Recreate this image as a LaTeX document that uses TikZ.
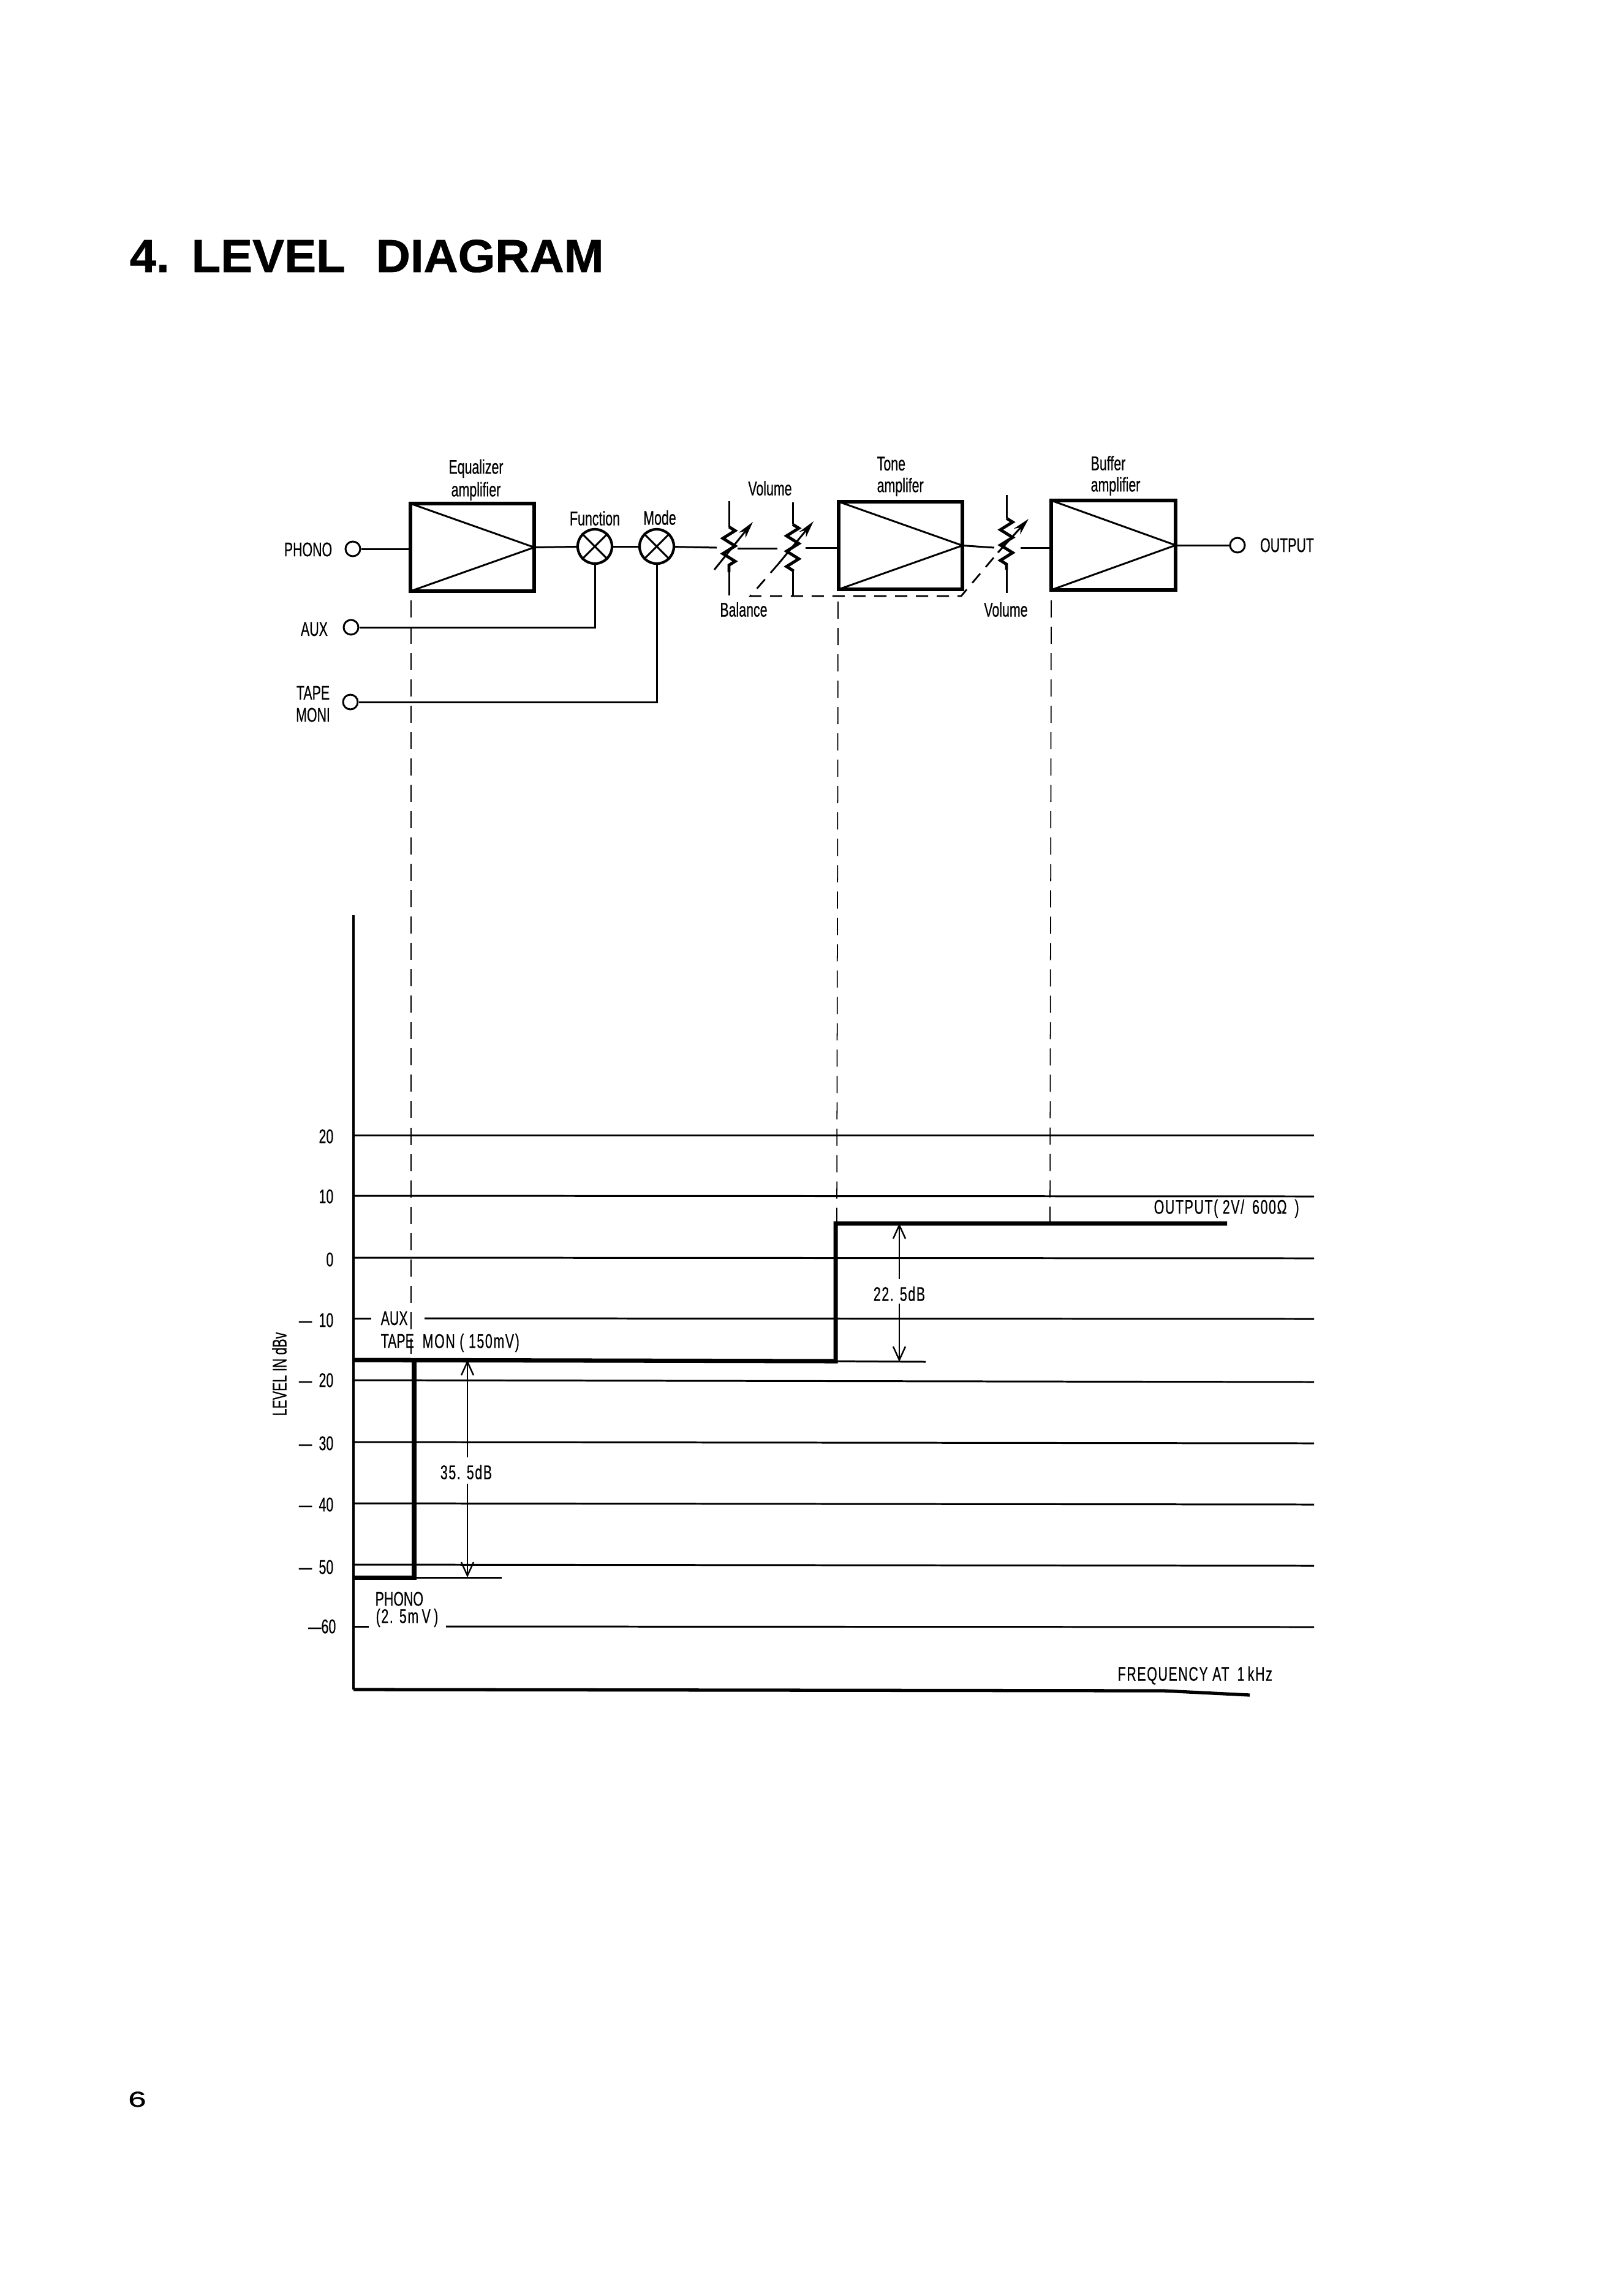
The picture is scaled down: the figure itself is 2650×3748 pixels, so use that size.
\documentclass[tikz,border=0pt]{standalone}
\usepackage{fontspec}
\setmainfont{Liberation Sans}[FakeStretch=0.66,FakeBold=0.5]
\newfontfamily\spreadfont[FakeStretch=0.66,FakeBold=0.5,LetterSpace=5]{Liberation Sans}
\newfontfamily\headfont[BoldFeatures={FakeStretch=1.03,FakeBold=0.8}]{Liberation Sans}
\newfontfamily\pagefont[FakeStretch=1.5,FakeBold=1.2]{Liberation Sans}
\usetikzlibrary{arrows.meta,decorations.pathmorphing}

\tikzset{
    wire/.style={line width=0.85pt},
    guide/.style={line width=0.5pt, dash pattern=on 0.28cm off 0.15cm},
    gang/.style={line width=0.8pt, dash pattern=on 0.2cm off 0.14cm},
    grid line/.style={line width=0.85pt},
    level/.style={line width=2pt},
    span/.style={line width=0.7pt, -{Straight Barb[length=0.22cm,width=0.2cm]}},
    amp/.style={draw, line width=1.7pt, inner sep=0pt, outer sep=0pt},
    jack/.style={circle, draw, line width=0.85pt, inner sep=0pt, minimum size=0.24cm},
    mixer/.style={circle, draw, line width=1.2pt, inner sep=0pt, minimum size=0.56cm},
    tag/.style={inner sep=0pt, font=\fontsize{9.2}{11}\selectfont},
    wide tag/.style={inner sep=0pt, font=\spreadfont\fontsize{9.2}{11}\selectfont},
    coil/.style={decorate, decoration={zigzag, amplitude=0.1cm, segment length=0.25cm}, line width=1.4pt},
    knob/.style={line width=0.85pt, -{Stealth[length=0.28cm,width=0.14cm]}}
}

\begin{document}
\begin{tikzpicture}[x=0.01cm, y=-0.01cm]
    \useasboundingbox (0,0) rectangle (2650,3748);
    \node[inner sep=0pt, anchor=base west, font=\headfont\bfseries\fontsize{21.5}{26}\selectfont] (title) at (211,444) {4.\hspace{0.36cm}LEVEL\hspace{0.5cm}DIAGRAM};
    \node[inner sep=0pt, anchor=base, font=\pagefont\fontsize{10}{12}\selectfont] (page) at (224,3439) {6};

    % input jacks and the three amplifier stages
    \path node[jack] (phono) at (576,896) {}
        node[jack] (aux) at (573,1024) {}
        node[jack] (tape) at (572,1146) {}
        node[jack] (out) at (2020,890) {}
        node[amp, minimum width=2.02cm, minimum height=1.43cm] (eq) at (771,893.5) {}
        node[amp, minimum width=2.02cm, minimum height=1.43cm] (tone) at (1470,890.5) {}
        node[amp, minimum width=2.03cm, minimum height=1.46cm] (buf) at (1817.5,890) {}
        node[mixer] (func) at (971,892) {}
        node[mixer] (mode) at (1072,892) {};

    \draw[wire] (eq.north west) -- (eq.east) -- (eq.south west);
    \draw[wire] (tone.north west) -- (tone.east) -- (tone.south west);
    \draw[wire] (buf.north west) -- (buf.east) -- (buf.south west);
    \draw[wire] (func.45) -- (func.225) (func.135) -- (func.315);
    \draw[wire] (mode.45) -- (mode.225) (mode.135) -- (mode.315);

    % variable resistors
    \path coordinate (r1t) at (1190,818) coordinate (r1a) at (1190,860)
        coordinate (r1b) at (1190,934) coordinate (r1e) at (1190,972)
        coordinate (r2t) at (1294,820) coordinate (r2a) at (1294,856)
        coordinate (r2b) at (1294,932) coordinate (r2e) at (1294,973)
        coordinate (r3t) at (1643,808) coordinate (r3a) at (1643,846)
        coordinate (r3b) at (1643,930) coordinate (r3e) at (1643,968);
    \draw[wire] (r1t) -- (r1a) (r1b) -- (r1e);
    \draw[wire] (r2t) -- (r2a) (r2b) -- (r2e);
    \draw[wire] (r3t) -- (r3a) (r3b) -- (r3e);
    \draw[coil] (r1a) -- (r1b);
    \draw[coil] (r2a) -- (r2b);
    \draw[coil] (r3a) -- (r3b);

    \path coordinate (k1s) at (1166,930) coordinate (k1e) at (1229,852)
        coordinate (k2s) at (1225,973) coordinate (k2m) at (1271,920) coordinate (k2e) at (1328,851)
        coordinate (k3s) at (1569,973) coordinate (k3m) at (1629,902) coordinate (k3e) at (1679,847);
    \draw[knob] (k1s) -- (k1e);
    \draw[knob] (k2m) -- (k2e);
    \draw[knob] (k3m) -- (k3e);
    \draw[gang] (k2m) -- (k2s) -- (k3s) -- (k3m);

    % signal path
    \path coordinate (n1) at (1170,894) coordinate (n2) at (1204,895)
        coordinate (n3) at (1269,895) coordinate (n4) at (1315,894)
        coordinate (n5) at (1623,894) coordinate (n6) at (1666,894);
    \draw[wire] (phono) -- (phono -| eq.west);
    \draw[wire] (eq.east) -- (func);
    \draw[wire] (func) -- (mode);
    \draw[wire] (mode) -- (n1);
    \draw[wire] (n2) -- (n3);
    \draw[wire] (n4) -- (n4 -| tone.west);
    \draw[wire] (tone.east) -- (n5);
    \draw[wire] (n6) -- (n6 -| buf.west);
    \draw[wire] (buf.east) -- (out);
    \draw[wire] (aux) -| (func);
    \draw[wire] (tape) -| (mode);

    % labels of the block diagram
    \path node[tag] (tphono) at (503,897) {PHONO}
        node[tag] (taux) at (513,1027) {AUX}
        node[tag] (ttape) at (511,1131) {TAPE}
        node[tag] (tmoni) at (511,1167) {MONI}
        node[tag] (toutput) at (2101,890) {OUTPUT}
        node[tag] (teq) at (777,765) {Equalizer}
        node[tag] (teqa) at (777,802) {amplifier}
        node[tag] (tfunc) at (971,846) {Function}
        node[tag] (tmode) at (1077,845) {Mode}
        node[tag] (tvol) at (1257,797) {Volume}
        node[tag] (tbal) at (1214,995) {Balance}
        node[tag] (tvolb) at (1642,995) {Volume}
        node[tag, anchor=west] (ttone) at (1431,757) {Tone}
        node[tag, anchor=west] (ttonea) at (1431,795) {amplifer}
        node[tag, anchor=west] (tbuf) at (1780,756) {Buffer}
        node[tag, anchor=west] (tbufa) at (1780,794) {amplifier};

    % level chart
    \path coordinate (atop) at (577,1494) coordinate (abot) at (577,2758)
        coordinate (aend) at (1900,2760) coordinate (aend2) at (2040,2767)
        coordinate (g20a) at (577,1853) coordinate (g20b) at (2145,1853)
        coordinate (g10a) at (577,1952) coordinate (g10b) at (2145,1953)
        coordinate (g0a) at (577,2053) coordinate (g0b) at (2145,2054)
        coordinate (gm10a) at (577,2152) coordinate (gm10b) at (606,2152)
        coordinate (gm10c) at (693,2152) coordinate (gm10d) at (2145,2153)
        coordinate (gm20a) at (577,2253) coordinate (gm20b) at (2145,2256)
        coordinate (gm30a) at (577,2354) coordinate (gm30b) at (2145,2356)
        coordinate (gm40a) at (577,2454) coordinate (gm40b) at (2145,2456)
        coordinate (gm50a) at (577,2554) coordinate (gm50b) at (2145,2556)
        coordinate (gm60a) at (577,2655) coordinate (gm60b) at (602,2655)
        coordinate (gm60c) at (728,2655) coordinate (gm60d) at (2145,2656);
    \draw[grid line, line width=1.1pt] (atop) -- (abot);
    \draw[grid line, line width=1.5pt] (abot) -- (aend) -- (aend2);
    \draw[grid line] (g20a) -- (g20b);
    \draw[grid line] (g10a) -- (g10b);
    \draw[grid line] (g0a) -- (g0b);
    \draw[grid line] (gm10a) -- (gm10b);
    \draw[grid line] (gm10c) -- (gm10d);
    \draw[grid line] (gm20a) -- (gm20b);
    \draw[grid line] (gm30a) -- (gm30b);
    \draw[grid line] (gm40a) -- (gm40b);
    \draw[grid line] (gm50a) -- (gm50b);
    \draw[grid line] (gm60a) -- (gm60b);
    \draw[grid line] (gm60c) -- (gm60d);

    % level curve
    \path coordinate (l0) at (577,2575) coordinate (l1) at (676,2575)
        coordinate (l2) at (676,2220) coordinate (l3) at (577,2220)
        coordinate (l4) at (1364,2222) coordinate (l5) at (1364,1997)
        coordinate (l6) at (2003,1997)
        coordinate (e1) at (819,2575) coordinate (e2) at (1511,2223);
    \draw[level] (l0) -- (l1) -- (l2);
    \draw[level] (l3) -- (l4) -- (l5) -- (l6);
    \draw[wire] (l1) -- (e1);
    \draw[wire] (l4) -- (e2);

    % spans between the levels
    \path coordinate (s1) at (763,2220) coordinate (s1a) at (763,2379)
        coordinate (s1b) at (763,2422) coordinate (s1c) at (763,2575)
        coordinate (s2) at (1468,1997) coordinate (s2a) at (1468,2088)
        coordinate (s2b) at (1468,2128) coordinate (s2c) at (1468,2223);
    \draw[span] (s1a) -- (s1);
    \draw[span] (s1b) -- (s1c);
    \draw[span] (s2a) -- (s2);
    \draw[span] (s2b) -- (s2c);

    % projection of the stages onto the chart
    \path coordinate (d1a) at (671,980) coordinate (d1b) at (671,2210)
        coordinate (d2a) at (1368,982) coordinate (d2b) at (1366,1997)
        coordinate (d3a) at (1716,980) coordinate (d3b) at (1714,1997);
    \draw[guide] (d1a) -- (d1b);
    \draw[guide] (d2a) -- (d2b);
    \draw[guide] (d3a) -- (d3b);

    % chart labels
    \path node[tag, anchor=east] (y20) at (545,1855) {20}
        node[tag, anchor=east] (y10) at (545,1953) {10}
        node[tag, anchor=east] (y0) at (545,2056) {0}
        node[tag, anchor=east] (ym10) at (545,2155) {--- \,10}
        node[tag, anchor=east] (ym20) at (545,2253) {--- \,20}
        node[tag, anchor=east] (ym30) at (545,2356) {--- \,30}
        node[tag, anchor=east] (ym40) at (545,2456) {--- \,40}
        node[tag, anchor=east] (ym50) at (545,2558) {--- \,50}
        node[tag, anchor=east] (ym60) at (549,2655) {---60}
        node[tag, rotate=90] (yname) at (456,2243) {LEVEL IN dBv}
        node[tag, anchor=west] (taux2) at (621,2152) {AUX}
        node[tag, anchor=west] (ttape2) at (621,2189) {TAPE}
        node[wide tag, anchor=west] (tmon) at (689,2192) {MON ( 150mV)}
        node[tag, anchor=west] (tph2) at (612,2610) {PHONO}
        node[wide tag, anchor=west] (tmv) at (613,2641) {(2. 5m\,V\,)}
        node[wide tag] (t355) at (761,2403) {35. 5dB}
        node[wide tag] (t225) at (1468,2112) {22. 5dB}
        node[wide tag, anchor=west] (toutv) at (1883,1973) {OUTPUT( 2V/\, 600Ω\, )}
        node[wide tag, anchor=west] (tfreq) at (1824,2735) {FREQUENCY AT\, 1\,kHz};
\end{tikzpicture}
\end{document}
